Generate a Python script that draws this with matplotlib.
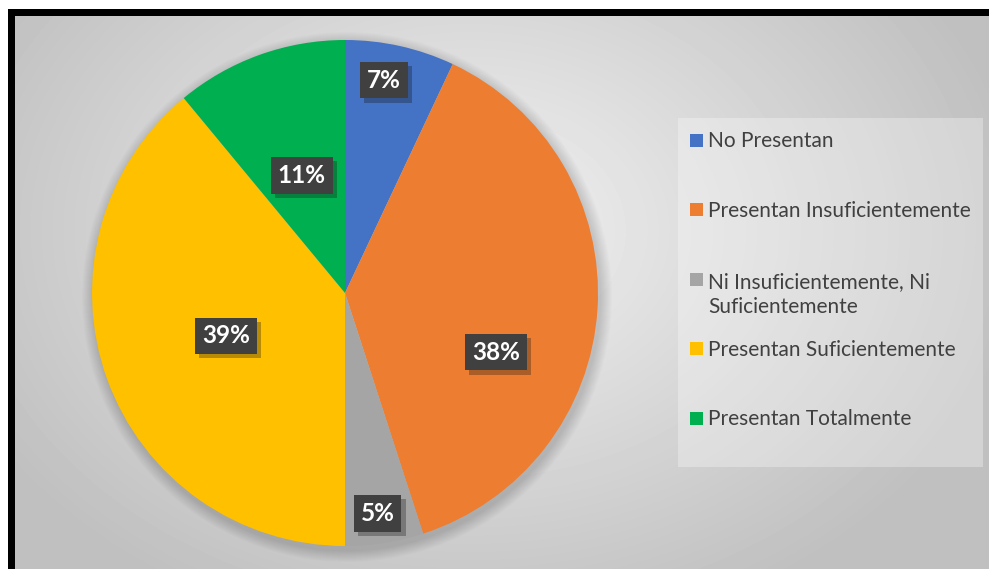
import matplotlib.pyplot as plt
import matplotlib.patches as mpatches
import matplotlib.patheffects as pe
import numpy as np

# data
categories = ['No Presentan', 'Presentan Insuficientemente',
              'Ni Insuficientemente, Ni\nSuficientemente',
              'Presentan Suficientemente', 'Presentan Totalmente']
values = [7, 38, 5, 39, 11]
colors = ['#4472C4', '#ED7D31', '#A5A5A5', '#FFC000', '#00B050']

# label placement inside each slice (fraction of slice angle, fraction of radius)
lab_frac = [0.41, 0.63, 0.53, 0.50, 0.49]
lab_rad = [0.855, 0.64, 0.88, 0.50, 0.495]

W, H = 989, 569
fig = plt.figure(figsize=(W / 100, H / 100), dpi=100)
fig.patch.set_facecolor('white')

# background in pixel coordinates
bg = fig.add_axes([0, 0, 1, 1])
bg.set_xlim(0, W)
bg.set_ylim(H, 0)
bg.axis('off')
bg.add_patch(mpatches.Rectangle((8, 9), W, H, fc='black', ec='none'))
yy, xx = np.mgrid[16:H, 15:W]
d = np.sqrt(((xx - 470) / 560.0) ** 2 + ((yy - 230) / 420.0) ** 2)
shade = np.clip(0.95 - 0.20 * d, 0.75, 0.95)
bg.imshow(shade, cmap='gray', vmin=0, vmax=1, extent=(15, W, H, 16),
          interpolation='bilinear', aspect='auto', zorder=1)

# soft shadow around the pie
for k in range(12):
    bg.add_patch(mpatches.Circle((347, 297), 253 + 12 - k, fc='black',
                                 ec='none', alpha=0.012, zorder=2))

# legend box
bg.add_patch(mpatches.Rectangle((678, 118), 305, 349, fc='white', ec='none',
                                alpha=0.3, zorder=2))

# pie
cx, cy, R = 345, 293, 253
ax = fig.add_axes([(cx - R) / W, (H - cy - R) / H, 2 * R / W, 2 * R / H])
wedges, _ = ax.pie(values, colors=colors, startangle=90, counterclock=False,
                   radius=1, wedgeprops=dict(linewidth=0))
ax.set_xlim(-1, 1)
ax.set_ylim(-1, 1)
ax.set_aspect('equal')
ax.axis('off')

total = sum(values)
start = 0.0
for i, v in enumerate(values):
    span = 360.0 * v / total
    ang = np.deg2rad(start + lab_frac[i] * span)
    x = lab_rad[i] * np.sin(ang)
    y = lab_rad[i] * np.cos(ang)
    t = ax.text(x, y, f'{round(100 * v / total)}%', ha='center', va='center',
                fontsize=17.5, fontweight='bold', family='Lato', color='white',
                bbox=dict(boxstyle='square,pad=0.28', fc='#404040', ec='none'))
    t.get_bbox_patch().set_path_effects(
        [pe.SimplePatchShadow(offset=(3, -3), alpha=0.3), pe.Normal()])
    start += span

# legend entries
for i, lab in enumerate(categories):
    ty = 140 + 69.5 * i
    nlines = lab.count('\n')
    bg.add_patch(mpatches.Rectangle((690, ty - 6.5), 13, 13, fc=colors[i],
                                    ec='none', zorder=3))
    bg.text(708, ty + 7 + 27 * nlines, lab, ha='left', va='baseline', fontsize=15,
            family='Lato', color='#404040', linespacing=1.3, zorder=3)

fig.savefig('out.png', dpi=100)
